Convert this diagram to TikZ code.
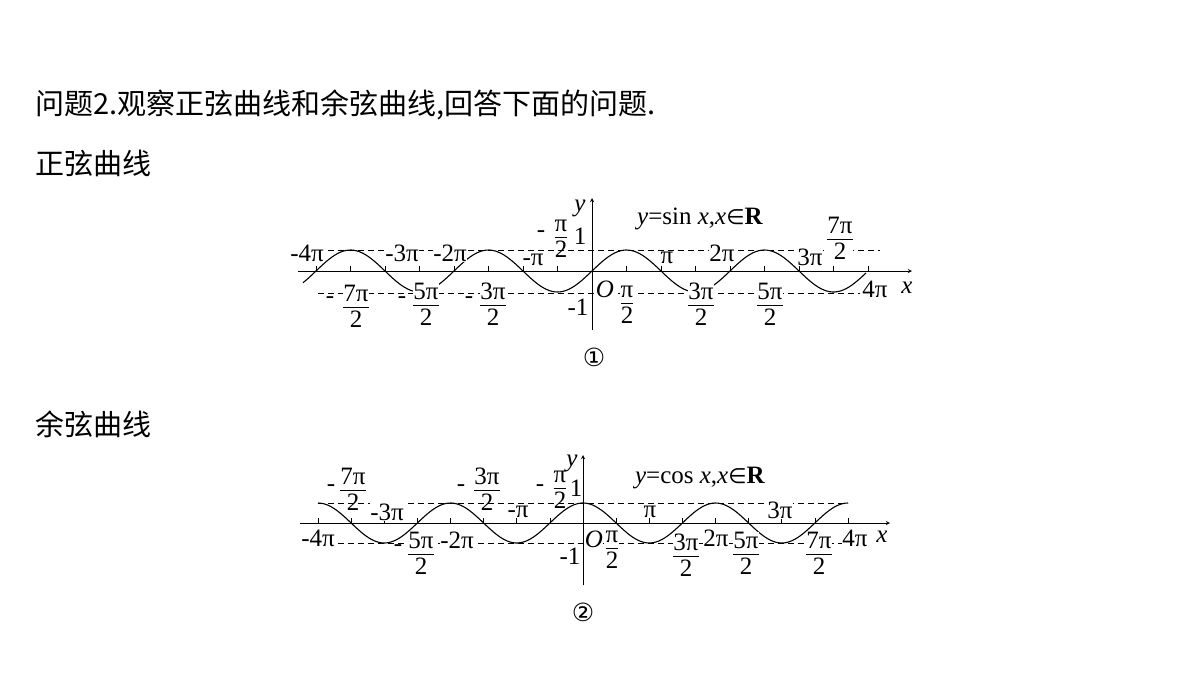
\documentclass[tikz,border=0pt]{standalone}
\usepackage{fontspec}
\setmainfont{Liberation Serif}
\newfontfamily\cjk{Noto Sans CJK SC}
\newfontfamily\djvu{DejaVu Sans}
\newcommand\myfr[2]{{\renewcommand\arraystretch{0.72}\setlength\tabcolsep{0pt}\begin{tabular}{c}#1\\\hline\rule{0pt}{20pt}#2\end{tabular}}}
\begin{document}
\begin{tikzpicture}[x=1pt,y=-1pt,
  lab/.style={inner sep=0.3pt,font=\fontsize{25}{26}\selectfont,fill=white},
  head/.style={anchor=west,inner sep=0,font=\cjk\fontsize{29}{32}\selectfont},
  dsh/.style={dashed,line width=0.7pt,dash pattern=on 6pt off 4pt},
  ax/.style={line width=0.9pt,-stealth},
  crv/.style={line width=1.1pt}]
\useasboundingbox (0,0) rectangle (1200,675);
\node[head] (t1) at (35,105) {问题2.观察正弦曲线和余弦曲线,回答下面的问题.};
\node[head] (t2) at (35,163) {正弦曲线};
\node[head] (t3) at (35,424) {余弦曲线};
% ---------- sine ----------
\coordinate (sO) at (592,271);
\draw[dsh] (318,250) -- (880,250);
\draw[dsh] (318,293) -- (860,293);
\draw[ax] (298,271) -- (912,271);
\draw[ax] (592,330) -- (592,198);
\foreach \k in {-8,...,8} \draw[line width=0.7pt] ({592+34.5*\k},271) -- ({592+34.5*\k},266);
\draw[crv,domain=303:866,samples=200] plot (\x,{271-21*sin(((\x-592)/69)*180)});
\node[lab] (s1) at (307,253) {-4π};
\node[lab] (s2) at (402,253) {-3π};
\node[lab] (s3) at (450,253) {-2π};
\node[lab] (s4) at (533,260) {-π};
\node[lab,fill=none] (s5m) at (541,234) {-};
\node[lab,fill=none] (s5) at (561,241) {\myfr{π}{2}};
\node[lab,fill=none] (s6) at (580,236) {1};
\node[lab,fill=none,font=\fontsize{25}{26}\selectfont\itshape] (sy) at (580,208) {y};
\node[lab,fill=none] (seq) at (700,219) {\textit{y}=sin \textit{x},\textit{x}{\djvu\fontsize{21}{22}\selectfont ∈}\textbf{R}};
\node[lab] (s7) at (667,258) {π};
\node[lab] (s8) at (722,253) {2π};
\node[lab] (s9) at (810,257) {3π};
\node[lab] (s10) at (840,241) {\myfr{7π}{2}};
\node[lab,fill=none] (s11m) at (330,300) {-};
\node[lab] (s11) at (356,309) {\myfr{7π}{2}};
\node[lab,fill=none] (s12m) at (402,300) {-};
\node[lab] (s12) at (426,307) {\myfr{5π}{2}};
\node[lab,fill=none] (s13m) at (469,300) {-};
\node[lab] (s13) at (493,307) {\myfr{3π}{2}};
\node[lab,fill=none] (s14) at (578,307) {-1};
\node[lab,font=\fontsize{25}{26}\selectfont\itshape] (sOl) at (605,289) {O};
\node[lab] (s15) at (627,307) {\myfr{π}{2}};
\node[lab] (s16) at (701,307) {\myfr{3π}{2}};
\node[lab] (s17) at (770,307) {\myfr{5π}{2}};
\node[lab] (s18) at (875,289) {4π};
\node[lab,fill=none,font=\fontsize{25}{26}\selectfont\itshape] (sx) at (907,288) {x};
\node[inner sep=0,font=\djvu\fontsize{25}{26}\selectfont] (c1) at (594,357) {①};
% ---------- cosine ----------
\coordinate (cO) at (583,523);
\draw[dsh] (318,503) -- (848,503);
\draw[dsh] (318,543) -- (848,543);
\draw[ax] (300,523) -- (890,523);
\draw[ax] (583,585) -- (583,455);
\foreach \k in {-8,...,8} \draw[line width=0.7pt] ({583+33.125*\k},523) -- ({583+33.125*\k},518);
\draw[crv,domain=318:848,samples=200] plot (\x,{523-20*cos(((\x-583)/66.25)*180)});
\node[lab,fill=none] (c2m) at (331,488) {-};
\node[lab,fill=none] (c2) at (353,492) {\myfr{7π}{2}};
\node[lab] (c3) at (387,512) {-3π};
\node[lab] (c4) at (318,538) {-4π};
\node[lab,fill=none] (c5m) at (398,548) {-};
\node[lab] (c5) at (421,556) {\myfr{5π}{2}};
\node[lab] (c6) at (457,540) {-2π};
\node[lab,fill=none] (c7m) at (461,488) {-};
\node[lab,fill=none] (c7) at (487,492) {\myfr{3π}{2}};
\node[lab] (c8) at (518,512) {-π};
\node[lab,fill=none] (c9m) at (540,488) {-};
\node[lab,fill=none] (c9) at (560,492) {\myfr{π}{2}};
\node[lab,fill=none] (c10) at (576,488) {1};
\node[lab,fill=none,font=\fontsize{25}{26}\selectfont\itshape] (cy) at (572,463) {y};
\node[lab,fill=none] (ceq) at (700,478) {\textit{y}=cos \textit{x},\textit{x}{\djvu\fontsize{21}{22}\selectfont ∈}\textbf{R}};
\node[lab] (c11) at (650,512) {π};
\node[lab] (c12) at (780,510) {3π};
\node[lab,font=\fontsize{25}{26}\selectfont\itshape] (cOl) at (594,539) {O};
\node[lab] (c13) at (612,552) {\myfr{π}{2}};
\node[lab,fill=none] (c14) at (570,556) {-1};
\node[lab] (c15) at (686,558) {\myfr{3π}{2}};
\node[lab] (c16) at (716,538) {2π};
\node[lab] (c17) at (746,556) {\myfr{5π}{2}};
\node[lab] (c18) at (819,556) {\myfr{7π}{2}};
\node[lab] (c19) at (855,538) {4π};
\node[lab,fill=none,font=\fontsize{25}{26}\selectfont\itshape] (cx) at (882,537) {x};
\node[inner sep=0,font=\djvu\fontsize{25}{26}\selectfont] (c2c) at (583,612) {②};
\end{tikzpicture}
\end{document}
